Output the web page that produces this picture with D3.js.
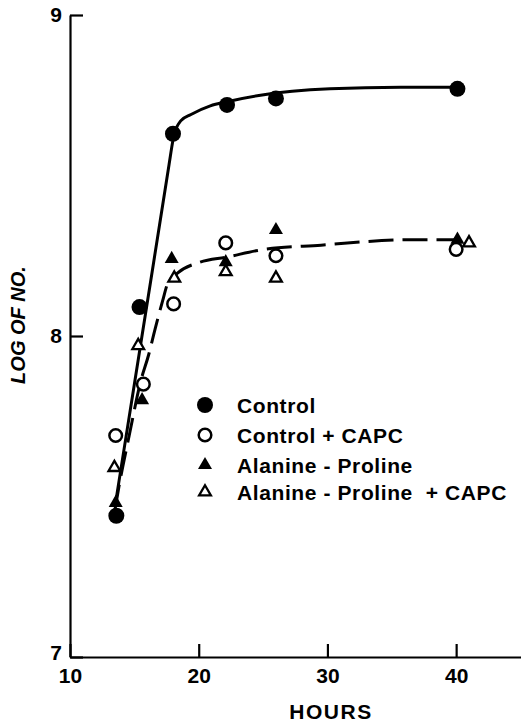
<!DOCTYPE html>
<html><head><meta charset="utf-8">
<script src="https://cdn.jsdelivr.net/npm/d3@7"></script>
<style>body{margin:0;background:#fff}</style>
</head><body>
<svg id="c" width="521" height="721"></svg>
<script>
// ---- data ----
const seriesNames = ["Control", "Control + CAPC", "Alanine - Proline", "Alanine - Proline  + CAPC"];
const hoursControl = [13.6, 15.4, 18.0, 22.2, 26.0, 40.1];
const logControl = [7.44, 8.09, 8.63, 8.72, 8.74, 8.77];
const hoursControlCapc = [13.55, 15.7, 18.05, 22.1, 26.0, 40.0];
const logControlCapc = [7.69, 7.85, 8.10, 8.29, 8.25, 8.27];
const hoursAlaPro = [13.55, 15.6, 17.9, 22.1, 26.0, 40.1];
const logAlaPro = [7.48, 7.80, 8.24, 8.23, 8.33, 8.30];
const hoursAlaProCapc = [13.45, 15.3, 18.1, 22.1, 26.0, 41.0];
const logAlaProCapc = [7.59, 7.97, 8.18, 8.20, 8.18, 8.29];
// fitted curves
const fitSolidHours = [13.5, 15.0, 16.5, 17.7, 18.0, 18.6, 19.4, 20.9, 22.2, 24.8, 30.2, 35.7, 40.1];
const fitSolidLog = [7.47, 7.85, 8.23, 8.535, 8.61, 8.67, 8.69, 8.717, 8.73, 8.75, 8.77, 8.775, 8.775];
const fitDashHours = [13.5, 13.8, 14.6, 15.5, 16.1, 16.6, 17.2, 17.6, 18.35, 20.1, 22.2, 24.8, 29.5, 36.5, 40.3];
const fitDashLog = [7.46, 7.53, 7.69, 7.86, 7.94, 8.02, 8.11, 8.165, 8.196, 8.23, 8.246, 8.268, 8.283, 8.30, 8.30];
const xTicks = [10, 20, 30, 40];
const yTicks = [7, 8, 9];
const xTitle = "HOURS";
const yTitle = "LOG OF NO.";

// ---- drawing ----
const svg = d3.select("#c");
const FONT = "'Liberation Sans', Arial, sans-serif";
const x = d3.scaleLinear().domain([10, 45]).range([70, 520.5]);
const y = d3.scaleLinear().domain([7, 9]).range([657, 15]);

const xAxis = svg.append("g").attr("transform", `translate(0,${y(7)})`)
  .call(d3.axisBottom(x).tickValues(xTicks).tickFormat(d3.format("d")).tickSizeInner(-13).tickSizeOuter(0).tickPadding(11));
const yAxis = svg.append("g").attr("transform", `translate(${x(10)},0)`)
  .call(d3.axisLeft(y).tickValues(yTicks).tickFormat(d3.format("d")).tickSizeInner(-13).tickSizeOuter(0).tickPadding(8));
[xAxis, yAxis].forEach(g => {
  g.select(".domain").attr("stroke", "#000").attr("stroke-width", 2.2);
  g.selectAll(".tick line").attr("stroke", "#000").attr("stroke-width", 2.2);
  g.selectAll(".tick text").attr("font-family", FONT).attr("font-weight", "bold")
    .attr("font-size", 21).attr("fill", "#000");
});
yAxis.selectAll(".tick text").filter(d => d === 7).attr("dy", "0.1em");

svg.append("text").attr("x", 331).attr("y", 711).attr("text-anchor", "middle")
  .attr("dominant-baseline", "central").attr("font-family", FONT).attr("font-weight", "bold")
  .attr("font-size", 21).attr("letter-spacing", 1.5).text(xTitle);
svg.append("text").attr("transform", "translate(18,325) rotate(-90)").attr("text-anchor", "middle")
  .attr("dominant-baseline", "central").attr("font-family", FONT).attr("font-weight", "bold")
  .attr("font-style", "italic").attr("font-size", 20).text(yTitle);

const line = d3.line().x(d => x(d[0])).y(d => y(d[1])).curve(d3.curveMonotoneX);
svg.append("path").datum(d3.zip(fitSolidHours, fitSolidLog)).attr("d", line)
  .attr("fill", "none").attr("stroke", "#000").attr("stroke-width", 3);
svg.append("path").datum(d3.zip(fitDashHours, fitDashLog)).attr("d", line)
  .attr("fill", "none").attr("stroke", "#000").attr("stroke-width", 3).attr("stroke-dasharray", "25,9");

const styles = [
  {type: "circle", filled: true},
  {type: "circle", filled: false},
  {type: "tri", filled: true},
  {type: "tri", filled: false}
];
function marker(g, st) {
  if (st.type === "circle") {
    if (st.filled) g.append("circle").attr("r", 8).attr("fill", "#000");
    else g.append("circle").attr("r", 6.3).attr("fill", "#fff").attr("stroke", "#000").attr("stroke-width", 2.5);
  } else {
    if (st.filled) g.append("path").attr("d", d3.symbol(d3.symbolTriangle, 85)()).attr("fill", "#000");
    else g.append("path").attr("d", d3.symbol(d3.symbolTriangle, 60)()).attr("fill", "#fff").attr("stroke", "#000").attr("stroke-width", 2.3);
  }
}
const seriesData = [
  d3.zip(hoursControl, logControl),
  d3.zip(hoursControlCapc, logControlCapc),
  d3.zip(hoursAlaPro, logAlaPro),
  d3.zip(hoursAlaProCapc, logAlaProCapc)
];
seriesData.forEach((pts, i) => {
  pts.forEach(p => {
    const g = svg.append("g").attr("transform", `translate(${x(p[0])},${y(p[1])})`);
    marker(g, styles[i]);
  });
});

// legend
const legY = [405, 435, 465, 492];
seriesNames.forEach((name, i) => {
  const g = svg.append("g").attr("transform", `translate(205,${legY[i]})`);
  marker(g, styles[i]);
  svg.append("text").attr("x", 237).attr("y", legY[i]).attr("dominant-baseline", "central")
    .attr("font-family", FONT).attr("font-weight", "bold").attr("font-size", 21)
    .attr("letter-spacing", 0.6)
    .attr("xml:space", "preserve").style("white-space", "pre").text(name);
});
</script>
</body></html>
